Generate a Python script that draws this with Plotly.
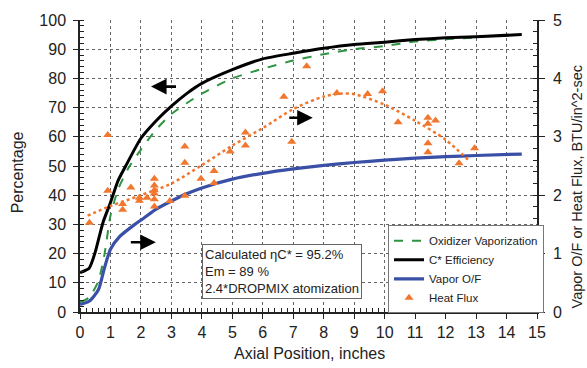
import plotly.graph_objects as go

# ---------------- data ----------------
# C* Efficiency (left axis, %)
cstar_x = [0, 0.3, 0.5, 0.75, 1.0, 1.25, 1.5, 2, 2.5, 3, 3.5, 4, 5, 6, 7, 8, 9, 10, 11, 12, 13, 14.5]
cstar_y = [13.5, 15, 20.5, 30.5, 37.5, 45, 50, 59.5, 65.5, 70.5, 74.8, 78.3, 83, 86.7, 88.6, 90.3, 91.6, 92.4, 93.3, 93.9, 94.3, 95.0]

# Oxidizer Vaporization (left axis, %)
oxvap_x = [0, 0.3, 0.6, 0.8, 1.0, 1.25, 1.6, 2, 2.5, 3, 3.5, 4, 5, 6, 7, 8, 9, 10, 11, 12, 13]
oxvap_y = [3.3, 5, 10.5, 19.5, 33, 42, 49.5, 55.6, 62.5, 67.8, 71.5, 74.8, 80, 83.3, 86.1, 88.3, 90, 91.1, 92.6, 93.4, 94.0]

# Vapor O/F (right axis)
vof_x = [0, 0.3, 0.6, 0.8, 1.0, 1.3, 1.8, 2.1, 2.5, 3, 3.5, 4, 5, 6, 7, 8, 9, 10, 11, 12, 13, 14.5]
vof_y = [0.13, 0.185, 0.375, 0.75, 1.075, 1.29, 1.5, 1.61, 1.76, 1.9, 2.025, 2.125, 2.275, 2.375, 2.45, 2.51, 2.56, 2.6, 2.635, 2.66, 2.68, 2.705]

# Heat flux measurements (right axis, BTU/in^2-sec)
hf_x = [0.31, 0.91, 0.91, 1.4, 1.4, 1.67, 1.95, 1.95, 2.2, 2.44, 2.44, 2.44, 2.44, 2.44, 2.44,
        2.95, 3.44, 3.44, 3.44, 3.97, 4.4, 4.4, 4.93, 5.43, 5.43, 6.69, 6.95, 7.44, 8.43, 9.44,
        9.93, 10.44, 11.42, 11.42, 11.67, 11.42, 11.42, 12.44, 12.95]
hf_y = [1.53, 3.03, 2.075, 1.85, 1.75, 2.13, 1.955, 1.905, 1.955, 2.28, 2.165, 2.085, 2.03, 1.93, 1.805,
        1.9, 1.99, 2.555, 2.835, 2.28, 2.415, 2.21, 2.75, 3.075, 2.85, 3.685, 2.915, 4.21, 3.75, 3.735,
        3.78, 3.25, 3.325, 3.225, 3.28, 2.89, 2.735, 2.545, 2.805]

# Heat flux trend line (right axis)
hft_x = [0.25, 1, 2, 3, 4, 5, 6, 7, 8, 8.6, 9, 10, 11, 12, 12.75]
hft_y = [1.65, 1.815, 2.0, 2.2, 2.515, 2.85, 3.15, 3.475, 3.69, 3.74, 3.73, 3.55, 3.275, 2.95, 2.6]

x_ticks = list(range(0, 16))
y_ticks = list(range(0, 101, 10))
y2_ticks = [0, 1, 2, 3, 4, 5]

# ---------------- styles ----------------
FONT = "Liberation Sans, Arial, sans-serif"
TXT = "#222222"
ORANGE = "#F2772E"
BLUE = "#3A4FA6"
GREEN = "#2E9441"

fig = go.Figure()

fig.add_trace(go.Scatter(x=oxvap_x, y=oxvap_y, mode="lines", name="Oxidizer Vaporization",
                         line=dict(color=GREEN, width=2, dash="dash", shape="spline", smoothing=0.6)))
fig.add_trace(go.Scatter(x=cstar_x, y=cstar_y, mode="lines", name="C* Efficiency",
                         line=dict(color="black", width=3, shape="spline", smoothing=0.6)))
fig.add_trace(go.Scatter(x=vof_x, y=vof_y, mode="lines", name="Vapor O/F", yaxis="y2",
                         line=dict(color=BLUE, width=3.2, shape="spline", smoothing=0.6)))
fig.add_trace(go.Scatter(x=hft_x, y=hft_y, mode="lines", showlegend=False, yaxis="y2",
                         line=dict(color=ORANGE, width=2.5, dash="dot", shape="spline", smoothing=0.8)))
fig.add_trace(go.Scatter(x=hf_x, y=hf_y, mode="markers", name="Heat Flux", yaxis="y2",
                         marker=dict(symbol="triangle-up", size=8, color=ORANGE)))

axis_common = dict(
    showline=True, linecolor="#222222", linewidth=1.5,
    showgrid=True, gridcolor="#666666", griddash="dot", gridwidth=1,
    zeroline=False, ticks="outside", ticklen=5, tickcolor="#222222",
    tickfont=dict(family=FONT, size=16, color=TXT),
)

fig.update_layout(
    width=587, height=368,
    margin=dict(l=80, r=50, t=12, b=56),
    paper_bgcolor="white", plot_bgcolor="white",
    font=dict(family=FONT, color=TXT),
    xaxis=dict(range=[0, 15], tickvals=x_ticks, ticklabelstandoff=0,
               minor=dict(dtick=0.2, ticks="inside", ticklen=4, tickcolor="#222222", showgrid=False),
               **axis_common),
    yaxis=dict(range=[0, 100], tickvals=y_ticks, ticklabelstandoff=4,
               minor=dict(dtick=2, ticks="inside", ticklen=4, tickcolor="#222222", showgrid=False),
               **axis_common),
    yaxis2=dict(range=[0, 5], tickvals=y2_ticks, overlaying="y", side="right",
                showline=True, linecolor="#222222", linewidth=1.5, showgrid=False, zeroline=False,
                ticks="outside", ticklen=6, tickcolor="#222222", ticklabelstandoff=5,
                tickfont=dict(family=FONT, size=16, color=TXT),
                minor=dict(dtick=0.2, ticks="inside", ticklen=4, tickcolor="#222222", showgrid=False)),
    showlegend=True,
    legend=dict(x=0.674, y=0.2967, xanchor="left", yanchor="top",
                bgcolor="white", bordercolor="#777777", borderwidth=1,
                font=dict(family=FONT, size=11.5, color=TXT),
                itemwidth=30, tracegroupgap=0),
)

annotations = [
    dict(text="Percentage", xref="paper", yref="paper", x=-0.1368, y=0.48, showarrow=False,
         xanchor="center", yanchor="middle",
         textangle=-90, font=dict(family=FONT, size=16, color=TXT)),
    dict(text="Axial Position, inches", xref="paper", yref="paper", x=0.503, y=-0.143, showarrow=False,
         xanchor="center", yanchor="middle",
         font=dict(family=FONT, size=16, color=TXT)),
    dict(text="Vapor O/F or Heat Flux, BTU/in^2-sec", xref="paper", yref="paper", x=1.0875, y=0.43,
         xanchor="center", yanchor="middle",
         showarrow=False, textangle=-90, font=dict(family=FONT, size=14.5, color=TXT)),
    dict(text="Calculated ηC* = 95.2%<br>Em = 89 %<br>2.4*DROPMIX atomization",
         xref="paper", yref="paper", x=0.267, y=0.2333, xanchor="left", yanchor="top",
         showarrow=False, align="left", bgcolor="white", bordercolor="#666666", borderwidth=1,
         borderpad=2, font=dict(family=FONT, size=13, color=TXT)),
    # arrows
    dict(x=2.33, y=77.2, ax=3.2, ay=77.2, xref="x", yref="y", axref="x", ayref="y", text="",
         showarrow=True, arrowhead=2, arrowsize=1.2, arrowwidth=2.6, arrowcolor="black"),
    dict(x=7.64, y=66.5, ax=6.82, ay=66.5, xref="x", yref="y", axref="x", ayref="y", text="",
         showarrow=True, arrowhead=2, arrowsize=1.2, arrowwidth=2.6, arrowcolor="black"),
    dict(x=2.49, y=23.9, ax=1.62, ay=23.9, xref="x", yref="y", axref="x", ayref="y", text="",
         showarrow=True, arrowhead=2, arrowsize=1.2, arrowwidth=2.6, arrowcolor="black"),
]
fig.update_layout(annotations=annotations)

fig.write_html("out.html")
